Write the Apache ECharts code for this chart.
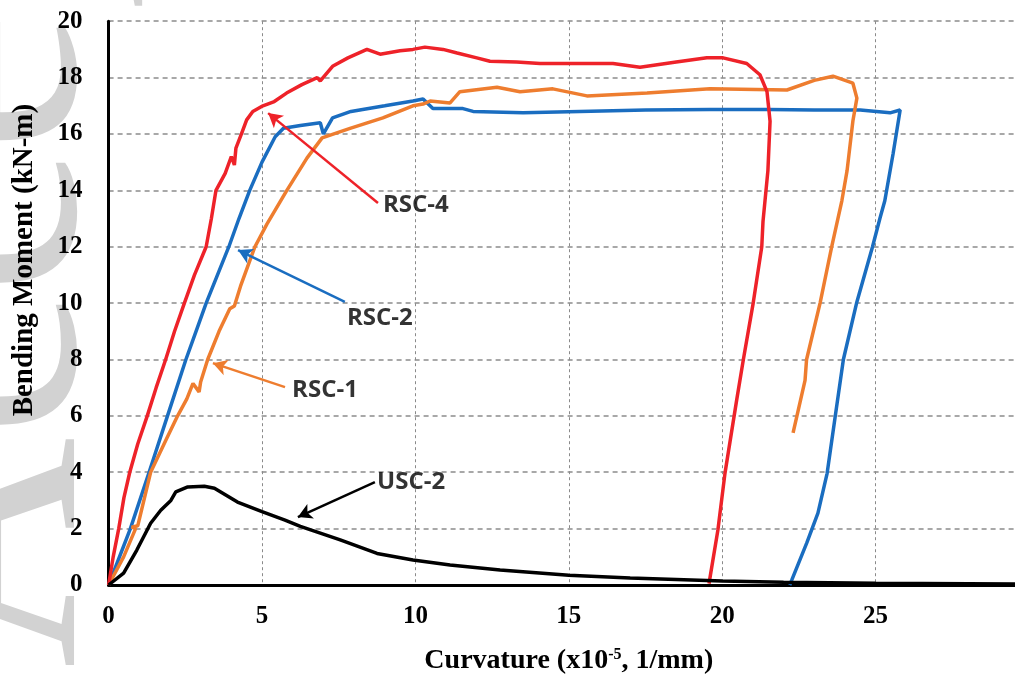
<!DOCTYPE html>
<html><head><meta charset="utf-8">
<script src="https://cdn.jsdelivr.net/npm/echarts@6/dist/echarts.min.js"></script>
<style>html,body{margin:0;padding:0;background:#fff}#c{width:1015px;height:677px}</style>
</head><body><div id="c"></div>
<script>
// ---- data (curvature x10^-5 1/mm, bending moment kN-m) ----
const seriesNames = ['RSC-2', 'RSC-1', 'RSC-4', 'USC-2'];
const rsc2 = [[0,0],[0.71,2.0],[1.32,4.0],[1.92,6.0],[2.52,8.0],[2.85,9.0],[3.18,10.0],[3.55,11.0],[3.92,12.0],[4.25,13.0],[4.6,14.0],[5.0,15.0],[5.43,15.9],[5.7,16.2],[6.25,16.3],[6.9,16.4],[7.0,16.0],[7.3,16.57],[7.9,16.8],[9.0,17.0],[9.92,17.17],[10.25,17.24],[10.57,16.9],[11.55,16.9],[11.88,16.8],[13.51,16.75],[15.36,16.8],[17.5,16.85],[19.6,16.87],[21.5,16.87],[23.0,16.85],[24.5,16.85],[25.47,16.75],[25.8,16.85],[25.57,15.3],[25.3,13.63],[25.14,13.0],[24.9,12.0],[24.38,10.0],[23.95,8.0],[23.68,5.95],[23.42,3.96],[23.12,2.55],[22.76,1.5],[22.27,0.18],[22.2,0]];
const rsc1 = [[0,0],[0.49,1.0],[0.88,2.0],[0.75,2.05],[0.95,2.1],[1.37,4.0],[1.85,5.1],[2.25,6.0],[2.55,6.6],[2.75,7.15],[2.95,6.85],[3.0,7.2],[3.23,8.0],[3.6,9.0],[3.95,9.8],[4.1,9.9],[4.3,10.6],[4.77,12.0],[5.16,12.8],[5.81,14.0],[6.47,15.15],[6.96,15.86],[7.87,16.2],[8.94,16.57],[9.92,17.0],[10.25,17.06],[10.48,17.17],[11.13,17.1],[11.45,17.5],[12.66,17.66],[13.41,17.5],[14.48,17.6],[15.59,17.35],[17.55,17.45],[19.6,17.6],[22.11,17.56],[23.0,17.9],[23.61,18.05],[24.26,17.8],[24.39,17.27],[24.26,16.46],[24.07,14.7],[23.9,13.63],[23.57,12.0],[23.19,10.0],[22.75,8.0],[22.7,7.26],[22.31,5.4]];
const rsc4 = [[0,0],[0.15,1.0],[0.33,2.0],[0.5,3.1],[0.69,4.0],[0.95,5.0],[1.26,6.0],[1.55,7.0],[1.86,8.0],[2.15,9.0],[2.47,10.0],[2.8,11.0],[3.18,12.0],[3.35,13.0],[3.5,14.0],[3.8,14.6],[4.0,15.2],[4.1,14.9],[4.15,15.5],[4.33,16.0],[4.5,16.5],[4.7,16.8],[5.03,17.0],[5.4,17.15],[5.8,17.45],[6.3,17.75],[6.8,18.0],[6.9,17.88],[7.3,18.4],[7.8,18.7],[8.42,19.0],[8.85,18.83],[9.5,18.95],[9.92,19.0],[10.31,19.08],[10.9,19.0],[11.36,18.87],[12.0,18.7],[12.43,18.58],[13.3,18.55],[14.06,18.5],[15.5,18.5],[16.44,18.5],[17.32,18.37],[18.5,18.55],[19.5,18.7],[20.03,18.7],[20.8,18.5],[21.23,18.1],[21.46,17.5],[21.56,16.45],[21.49,14.7],[21.33,12.9],[21.29,12.0],[21.01,10.0],[20.69,8.0],[20.47,6.55],[20.09,3.96],[19.86,1.95],[19.57,0.05]];
const usc2 = [[0,0],[0.49,0.42],[0.92,1.24],[1.37,2.19],[1.7,2.65],[2.03,3.0],[2.19,3.3],[2.58,3.48],[3.12,3.5],[3.45,3.43],[4.2,2.94],[5.0,2.6],[5.75,2.3],[6.25,2.08],[7.55,1.6],[8.75,1.12],[9.92,0.89],[11.13,0.71],[12.76,0.53],[15.0,0.35],[17.0,0.25],[20.0,0.14],[22.0,0.1],[25.0,0.06],[30.0,0.03]];
const lineColors = ['#1a6dc0', '#ee7d2f', '#ee2229', '#000000'];

// annotations
const labelNames = ['RSC-4', 'RSC-2', 'RSC-1', 'USC-2'];
const labelPos = [[8.94,13.48],[7.77,9.47],[5.98,6.92],[8.75,3.65]];
const arrowTails = [[8.78,13.55],[7.7,10.04],[5.75,7.02],[8.68,3.65]];
const arrowTips = [[5.2,16.74],[4.22,11.88],[3.4,7.87],[6.17,2.41]];
const arrowColors = ['#ee2229', '#1a6dc0', '#ee7d2f', '#000000'];

// axes
const xMin = 0, xMax = 30, xStep = 5;
const yMin = 0, yMax = 20, yStep = 2;
const xTitle = 'Curvature (x10{s|-5}, 1/mm)';
const yTitle = 'Bending Moment (kN-m)';

const chart = echarts.init(document.getElementById('c'), null, {renderer: 'canvas'});
const serif = 'Liberation Serif';
const curves = [rsc2, rsc1, rsc4, usc2];

const series = curves.map((d, i) => ({
  name: seriesNames[i], type: 'line', data: d, showSymbol: false, symbol: 'none',
  lineStyle: {color: lineColors[i], width: 3.5}, z: 3 + i, clip: true
}));
series.push({
  name: 'labels', type: 'scatter', symbolSize: 0, z: 10,
  data: labelPos,
  label: {
    show: true, position: 'right', distance: 0,
    formatter: p => labelNames[p.dataIndex],
    fontFamily: 'Open Sans', fontWeight: 'bold', fontSize: 24, color: '#000'
  },
  markLine: {
    silent: true, symbol: ['none', 'arrow'], symbolSize: [12, 14],
    label: {show: false},
    data: arrowTails.map((t, i) => [
      {coord: t, lineStyle: {color: arrowColors[i], width: 2.5, type: 'solid'}},
      {coord: arrowTips[i]}
    ])
  }
});

chart.setOption({
  animation: false,
  backgroundColor: '#fff',
  graphic: [{
    type: 'text', x: 150, y: 668, rotation: Math.PI / 2, z: -10, silent: true,
    style: {text: 'Accepted Article', font: '320px "Liberation Serif"', fill: '#d2d2d2',
            textAlign: 'left', textVerticalAlign: 'bottom'}
  }],
  grid: {left: 108.6, top: 21.2, width: 920.4, height: 563.8, containLabel: false, outerBoundsMode: 'none'},
  xAxis: {
    type: 'value', min: xMin, max: xMax, interval: xStep,
    axisLine: {show: true, onZero: false, lineStyle: {color: '#000', width: 3}},
    axisTick: {show: false},
    axisLabel: {margin: 19, color: '#000', fontFamily: serif, fontWeight: 'bold', fontSize: 25},
    splitLine: {show: true, lineStyle: {color: '#8a8a8a', width: 1, type: [3, 3]}},
    name: xTitle, nameLocation: 'middle', nameGap: 62,
    nameTextStyle: {color: '#000', fontFamily: serif, fontWeight: 'bold', fontSize: 28,
      rich: {s: {fontFamily: serif, fontWeight: 'bold', fontSize: 16, color: '#000', verticalAlign: 'top', padding: [0, 0, 12, 0]}}}
  },
  yAxis: {
    type: 'value', min: yMin, max: yMax, interval: yStep,
    axisLine: {show: true, onZero: false, lineStyle: {color: '#000', width: 3}},
    axisTick: {show: false},
    axisLabel: {margin: 26, color: '#000', fontFamily: serif, fontWeight: 'bold', fontSize: 25},
    splitLine: {show: true, lineStyle: {color: '#a8a8a8', width: 2, type: [5, 4]}},
    name: yTitle, nameLocation: 'middle', nameGap: 70,
    nameTextStyle: {color: '#000', fontFamily: serif, fontWeight: 'bold', fontSize: 29, padding: [0, 0, 0, 86]}
  },
  series: series
});
</script>
</body></html>
